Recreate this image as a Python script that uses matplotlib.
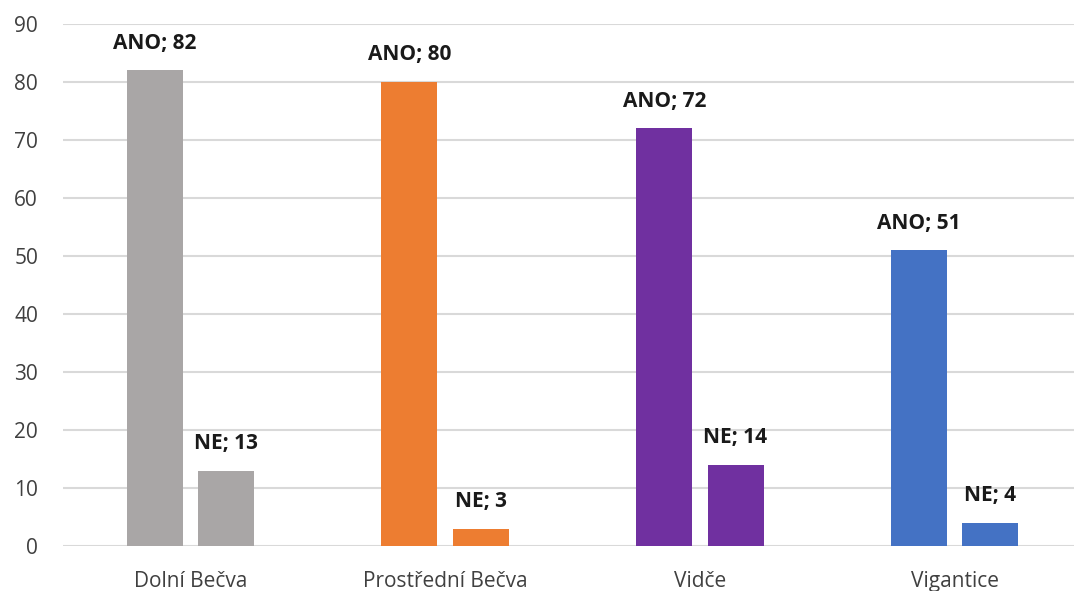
import matplotlib
matplotlib.use("Agg")
import matplotlib.pyplot as plt
import numpy as np

categories = ["Dolní Bečva", "Prostřední Bečva", "Vidče", "Vigantice"]
ano_values = [82, 80, 72, 51]
ne_values = [13, 3, 14, 4]
colors = ["#A9A6A6", "#ED7D31", "#7030A0", "#4472C4"]
yticks = [0, 10, 20, 30, 40, 50, 60, 70, 80, 90]

plt.rcParams['font.family'] = ['Open Sans', 'DejaVu Sans']

W, H = 1074, 591
fig = plt.figure(figsize=(W / 100, H / 100), dpi=100)
ax = fig.add_axes([63 / W, (H - 546) / H, (1082 - 63) / W, (546 - 24) / H])

x = np.arange(len(categories))
bw = 0.22
off = 0.14
ax.bar(x - off, ano_values, width=bw, color=colors, zorder=3)
ax.bar(x + off, ne_values, width=bw, color=colors, zorder=3)

for i in range(len(categories)):
    ax.annotate(f"ANO; {ano_values[i]}", (x[i] - off, ano_values[i]), xytext=(0, 12),
                textcoords="offset points", ha="center", va="bottom",
                fontsize=15, fontweight="bold", color="#1a1a1a")
    ax.annotate(f"NE; {ne_values[i]}", (x[i] + off, ne_values[i]), xytext=(0, 12),
                textcoords="offset points", ha="center", va="bottom",
                fontsize=15, fontweight="bold", color="#1a1a1a")

ax.set_xlim(-0.5, len(categories) - 0.5)
ax.set_ylim(0, 90)
ax.set_yticks(yticks)
ax.set_xticks(x)
ax.set_xticklabels(categories)
ax.tick_params(axis="both", length=0, labelsize=15, colors="#404040")
ax.tick_params(axis="x", pad=18)
ax.tick_params(axis="y", pad=18)
ax.grid(axis="y", color="#D9D9D9", linewidth=1.5, zorder=0)
for s in ax.spines.values():
    s.set_visible(False)

fig.savefig("out.png", dpi=100)
